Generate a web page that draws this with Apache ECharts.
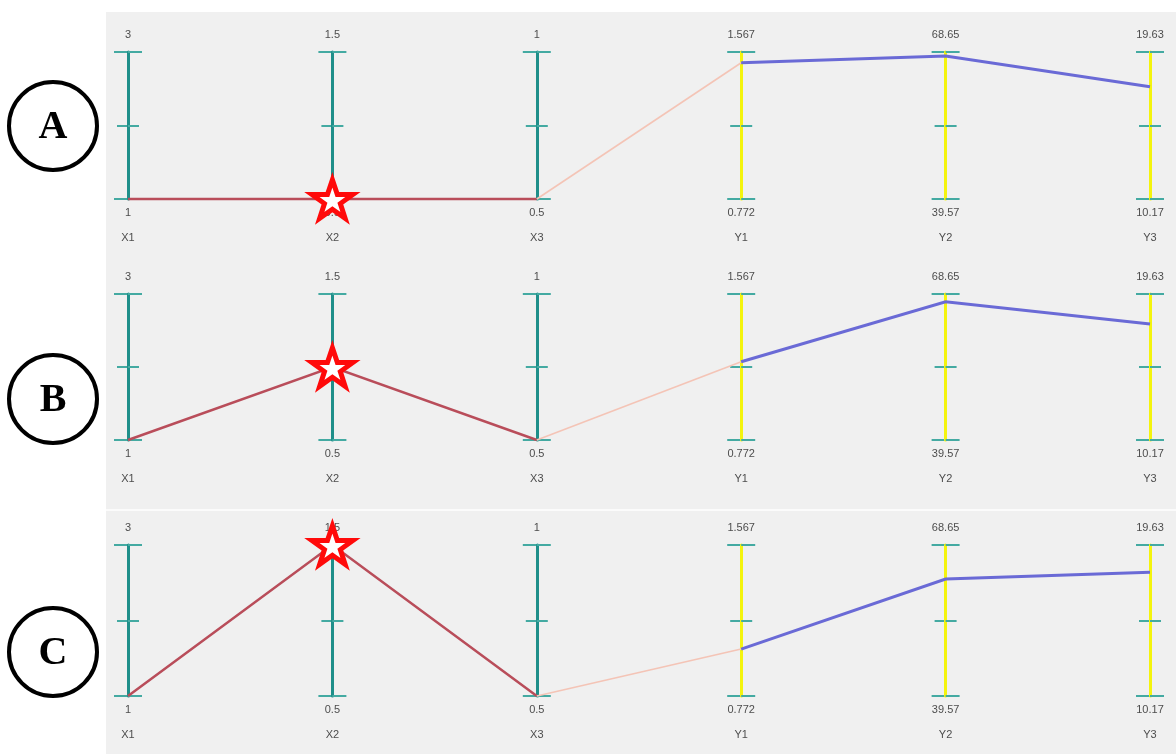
<!DOCTYPE html>
<html>
<head>
<meta charset="utf-8">
<script src="https://cdn.jsdelivr.net/npm/echarts@6/dist/echarts.min.js"></script>
<style>
  html, body { margin: 0; padding: 0; background: #ffffff; }
  #chart { width: 1176px; height: 754px; }
</style>
</head>
<body>
<div id="chart"></div>
<script>
// Axes of the parallel plot: design variables X1..X3, responses Y1..Y3
const axisNames = ['X1', 'X2', 'X3', 'Y1', 'Y2', 'Y3'];
const axisMin = [1, 0.5, 0.5, 0.772, 39.57, 10.17];
const axisMax = [3, 1.5, 1, 1.567, 68.65, 19.63];

// One design per panel
const caseLabels = ['A', 'B', 'C'];
const caseA = [1, 0.5, 0.5, 1.509, 67.86, 17.40];
const caseB = [1, 1.0, 0.5, 1.198, 67.11, 17.69];
const caseC = [1, 1.5, 0.5, 1.019, 62.11, 17.92];
const cases = [caseA, caseB, caseC];
const starAxis = 1; // the varied variable (X2) is marked with a star

// Panel placement: axis top, axis height, centre of the lettered circle
const panels = [
  { top: 52, height: 147, cy: 126 },
  { top: 294, height: 146, cy: 399 },
  { top: 545, height: 151, cy: 652 }
];
const AX_LEFT = 128, AX_RIGHT = 26, TICK_LEN = 11;
const TEAL = '#1f8f8a', TICK = '#44aaa2', YELLOW = '#f4f40e';
const LINE_X = '#b94d5a', LINE_LINK = '#f4c4b6', LINE_Y = '#6a6ad6';
const FONT = '"Liberation Sans", Arial, sans-serif';
const STAR = 'path://M50,0 L61.8,35.1 L98.9,35.1 L68.9,56.9 L80.3,91.9 L50,70.3 L19.7,91.9 L31.1,56.9 L1.1,35.1 L38.2,35.1 Z';

const labelStyle = { fontSize: 11, color: '#4d4d4d', fontFamily: FONT };
const noLabels = { show: false, formatter: () => '', color: 'rgba(0,0,0,0)' };

// keep only the values between two axes so each stretch gets its own colour
function segment(values, from, to) {
  return values.map((v, i) => (i >= from && i <= to ? v : null));
}

const parallel = [];
const parallelAxis = [];
const grid = [];
const xAxis = [];
const yAxis = [];
const series = [];

panels.forEach((p, k) => {
  const base = 3 * k;
  // 0: main axes, 1: end caps, 2: left half of the ticks (same rectangle moved one tick length left)
  parallel.push({ left: AX_LEFT, right: AX_RIGHT, top: p.top, height: p.height, layout: 'horizontal' });
  parallel.push({ left: AX_LEFT, right: AX_RIGHT, top: p.top, height: p.height, layout: 'horizontal' });
  parallel.push({ left: AX_LEFT - TICK_LEN, right: AX_RIGHT + TICK_LEN, top: p.top, height: p.height, layout: 'horizontal' });

  axisNames.forEach((name, i) => {
    const lo = axisMin[i], hi = axisMax[i];
    const tickValues = [lo, (lo + hi) / 2, hi];
    parallelAxis.push({
      dim: i, parallelIndex: base, name: name, min: lo, max: hi, z: 3,
      nameLocation: 'start', nameGap: 39,
      nameTextStyle: Object.assign({ align: 'center', verticalAlign: 'middle' }, labelStyle),
      axisLine: { show: true, lineStyle: { color: i < 3 ? TEAL : YELLOW, width: 3 } },
      axisTick: { show: true, length: TICK_LEN, customValues: tickValues,
                  lineStyle: { color: TICK, width: 2 } },
      axisLabel: Object.assign({
        show: true, customValues: [lo, hi],
        formatter: v => (v === hi ? '{t|' + v + '}' : '{b|' + v + '}'),
        margin: 0, align: 'center', verticalAlign: 'middle',
        rich: {
          t: Object.assign({ padding: [0, 0, 34, 0] }, labelStyle),
          b: Object.assign({ padding: [28, 0, 0, 0] }, labelStyle)
        }
      }, labelStyle),
      splitLine: { show: false }
    });
    parallelAxis.push({
      dim: i, parallelIndex: base + 1, name: '', min: lo, max: hi, z: 1,
      axisLine: { show: true, symbol: ['rect', 'rect'], symbolSize: [28, 2],
                  lineStyle: { color: TICK, width: 1 } },
      axisTick: { show: false },
      axisLabel: noLabels,
      splitLine: { show: false }
    });
    parallelAxis.push({
      dim: i, parallelIndex: base + 2, name: '', min: lo, max: hi, z: 1,
      axisLine: { show: false },
      axisTick: { show: true, length: TICK_LEN, customValues: tickValues,
                  lineStyle: { color: TICK, width: 2 } },
      axisLabel: Object.assign({ customValues: tickValues }, noLabels),
      splitLine: { show: false }
    });
  });

  const values = cases[k];
  const stretches = [
    { from: 0, to: 2, color: LINE_X, width: 2.5 },
    { from: 2, to: 3, color: LINE_LINK, width: 1.6 },
    { from: 3, to: 5, color: LINE_Y, width: 3 }
  ];
  stretches.forEach(s => series.push({
    type: 'parallel', parallelIndex: base, silent: true, z: 3,
    lineStyle: { color: s.color, width: s.width, opacity: 1 },
    emphasis: { disabled: true },
    data: [segment(values, s.from, s.to)]
  }));
  // the left-tick layer only renders its ticks once it holds data; its line stays transparent
  series.push({
    type: 'parallel', parallelIndex: base + 2, silent: true, z: 0,
    lineStyle: { color: LINE_X, width: 1, opacity: 0 },
    emphasis: { disabled: true },
    data: [values]
  });

  // star on the varied axis, placed through a hidden cartesian over the same rectangle
  grid.push({ left: AX_LEFT, right: AX_RIGHT, top: p.top, height: p.height });
  xAxis.push({ gridIndex: k, type: 'category', data: axisNames, boundaryGap: false, show: false });
  yAxis.push({ gridIndex: k, type: 'value', min: axisMin[starAxis], max: axisMax[starAxis], show: false });
  series.push({
    type: 'scatter', xAxisIndex: k, yAxisIndex: k, silent: true, z: 5,
    symbol: STAR, symbolSize: 41, symbolKeepAspect: true,
    itemStyle: { color: '#ffffff', borderColor: '#ff0a0a', borderWidth: 5, opacity: 1 },
    data: [[axisNames[starAxis], values[starAxis]]]
  });
});

// panel background, divider and the lettered circles
const graphic = [
  { type: 'rect', z: -10, shape: { x: 106, y: 12, width: 1070, height: 742 }, style: { fill: '#f0f0f0' } },
  { type: 'rect', z: -9, shape: { x: 106, y: 509, width: 1070, height: 2 }, style: { fill: '#fbfbfb' } }
];
panels.forEach((p, k) => {
  graphic.push({ type: 'circle', shape: { cx: 53, cy: p.cy, r: 44 },
                 style: { fill: '#ffffff', stroke: '#000000', lineWidth: 4 } });
  graphic.push({ type: 'text', x: 53, y: p.cy + 2,
                 style: { text: caseLabels[k], font: 'bold 40px "Liberation Serif", "Times New Roman", serif',
                          fill: '#000000', align: 'center', verticalAlign: 'middle' } });
});

const chart = echarts.init(document.getElementById('chart'), null, { renderer: 'canvas' });
chart.setOption({
  backgroundColor: '#ffffff',
  animation: false,
  graphic: graphic,
  parallel: parallel,
  parallelAxis: parallelAxis,
  grid: grid,
  xAxis: xAxis,
  yAxis: yAxis,
  series: series
});
</script>
</body>
</html>
